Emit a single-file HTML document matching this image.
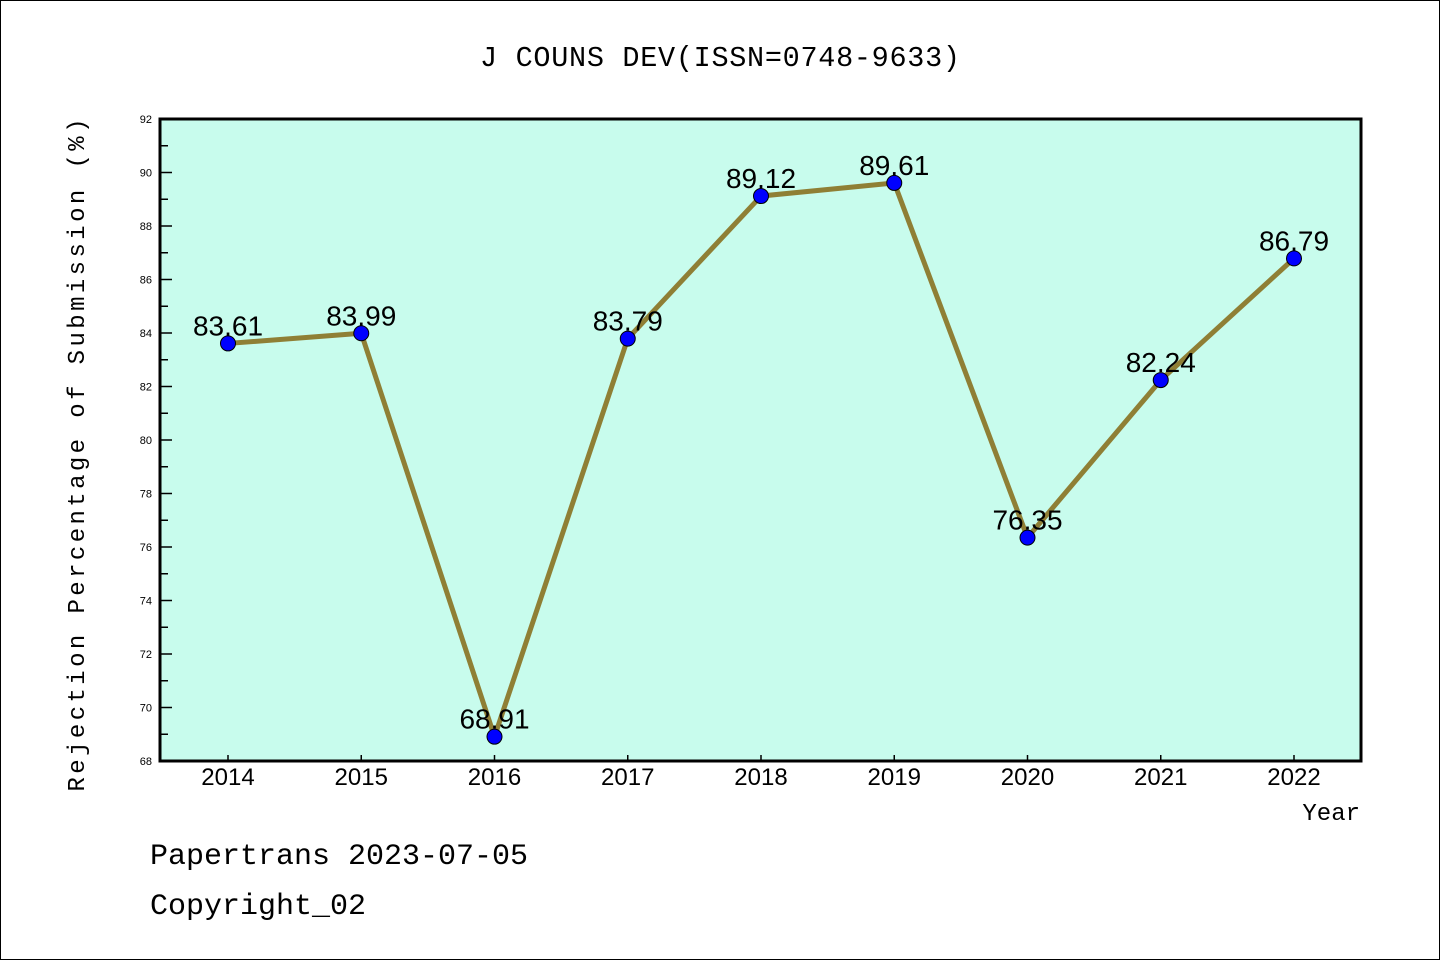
<!DOCTYPE html>
<html><head><meta charset="utf-8"><style>
body{margin:0;background:#fff;}
svg text{font-family:"Liberation Sans",sans-serif;}
svg text.mono{font-family:"Liberation Mono",monospace;}
</style></head><body>
<svg id="chart" width="1440" height="960" xmlns="http://www.w3.org/2000/svg">
<rect x="0.5" y="0.5" width="1439" height="959" fill="#fff" stroke="#000"/>
<text class="mono" x="720" y="66" font-size="28.5" text-anchor="middle" textLength="480">J COUNS DEV(ISSN=0748-9633)</text>
<rect x="160" y="119" width="1201" height="642" fill="#c8fced"/>
<g id="ticks"></g>
<g id="series"></g>
<rect x="160" y="119" width="1201" height="642" fill="none" stroke="#000" stroke-width="3"/>
<text class="mono" x="84" y="455" font-size="24" text-anchor="middle" textLength="673" transform="rotate(-90 84 455)">Rejection Percentage of Submission (%)</text>
<text class="mono" x="1360" y="820" font-size="24" text-anchor="end">Year</text>
<text class="mono" x="150" y="864" font-size="30">Papertrans 2023-07-05</text>
<text class="mono" x="150" y="914" font-size="30">Copyright_02</text>
</svg>
<script>
const years = [2014,2015,2016,2017,2018,2019,2020,2021,2022];
const values = [83.61,83.99,68.91,83.79,89.12,89.61,76.35,82.24,86.79];
const labels = ["83.61","83.99","68.91","83.79","89.12","89.61","76.35","82.24","86.79"];
const yTicks = [68,70,72,74,76,78,80,82,84,86,88,90,92];
const NS="http://www.w3.org/2000/svg";
const yMin=68,yMax=92,plotTop=119,plotBot=761;
const xs=i=>228+i*(1294-228)/(years.length-1);
const ys=v=>plotBot-(v-yMin)/(yMax-yMin)*(plotBot-plotTop);
function mk(t,a,p){const e=document.createElementNS(NS,t);for(const k in a)e.setAttribute(k,a[k]);p.appendChild(e);return e;}
const tg=document.getElementById('ticks'), sg=document.getElementById('series');
yTicks.forEach((v,i)=>{
  const l=mk('line',{x1:160,x2:172,y1:ys(v),y2:ys(v),stroke:'#000','stroke-width':1.5},tg);
  
  
  const t=mk('text',{x:152,y:ys(v)+4,'font-size':11,'text-anchor':'end'},tg);
  t.textContent=v;
  
  
  if(i<yTicks.length-1){
    const m=mk('line',{x1:160,x2:168,y1:ys(v+1),y2:ys(v+1),stroke:'#000','stroke-width':1.5},tg);
    
    
  }
});
years.forEach((yr,i)=>{
  const l=mk('line',{x1:xs(i),x2:xs(i),y1:plotBot,y2:plotBot-6,stroke:'#000','stroke-width':1.5},tg);
  
  
  const t=mk('text',{x:xs(i),y:785,'font-size':24,'text-anchor':'middle'},tg);
  t.textContent=yr;
  
  
});
const pl=mk('polyline',{points:values.map((v,i)=>xs(i)+','+ys(v)).join(' '),fill:'none',stroke:'#8f7f35','stroke-width':5,'stroke-linejoin':'round'},sg);


values.forEach((v,i)=>{
  const c=mk('circle',{cx:xs(i),cy:ys(v),r:7.5,fill:'#0000ff',stroke:'#000','stroke-width':1},sg);
  
  
  const t=mk('text',{x:xs(i),y:ys(v)-8,'font-size':28,'text-anchor':'middle'},sg);
  t.textContent=labels[i];
  
  
});
</script>
</body></html>
